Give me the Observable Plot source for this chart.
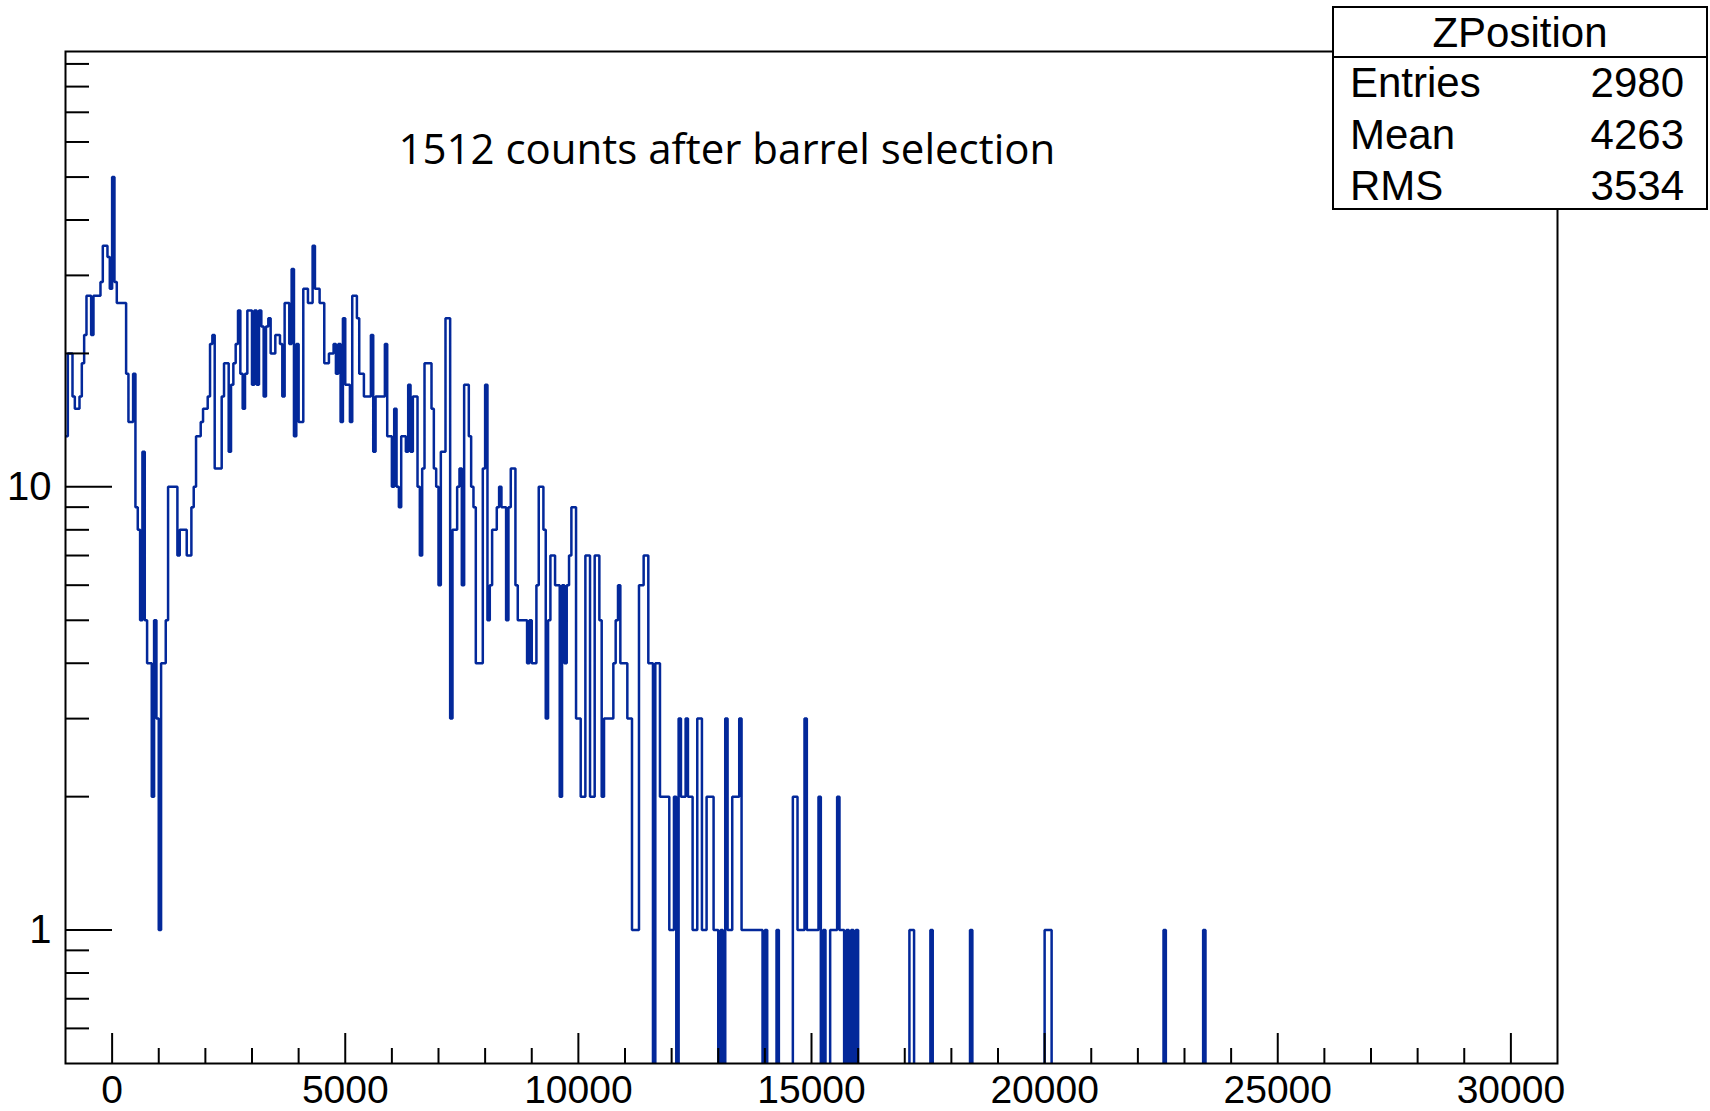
<!DOCTYPE html>
<html><head><meta charset="utf-8">
<script src="https://cdn.jsdelivr.net/npm/d3@7"></script>
<script src="https://cdn.jsdelivr.net/npm/@observablehq/plot@0.6"></script>
<style>html,body{margin:0;padding:0;background:#fff;overflow:hidden}</style>
</head><body>
<script>
// Histogram read as runs: each run starts at runStart[i] and lasts until the next start (bin width 50)
const runStart = [
  -1000,-950,-850,-800,-700,-650,-600,-550,-450,-400,-250,-200,-100,-50,0,50,100,300,350,450,
  500,550,600,650,700,750,850,900,950,1000,1050,1150,1200,
  1400,1450,1600,1700,1750,1800,1900,1950,2050,2100,2150,2200,2350,2400,2500,2550,2600,2650,2700,2750,
  2800,2850,2900,3000,3050,3100,3150,3200,3250,3300,3350,3400,3500,3600,3650,3700,3800,3850,3900,3950,
  4000,4100,4200,4300,4350,4450,4550,4650,4750,4800,4850,4900,4950,5000,5100,5150,5250,5300,5400,5550,
  5600,5650,5850,5900,6000,6050,6100,6150,6200,6300,6350,6400,6450,6550,6600,6650,6700,6850,6900,6950,
  7000,7050,7150,7250,7300,7400,7450,7500,7550,7650,7700,7750,7800,7950,8000,8050,8100,8150,8250,8300,
  8350,8450,8500,8550,8650,8700,8900,8950,9000,9100,9150,9250,9300,9350,9400,9500,9600,9650,9700,9750,
  9800,9850,9950,10050,10150,10250,10350,10450,10500,10550,10750,10800,10850,10900,11050,11150,11300,
  11400,11500,11600,11650,11750,11950,12050,12100,12150,12200,12300,12350,12450,12550,12650,12750,12900,
  13000,13050,13100,13150,13200,13300,13450,13500,13950,14000,14050,14250,14300,14600,14700,14850,14900,
  15150,15200,15250,15300,15400,15550,15600,15700,15750,15800,15850,15900,15950,16000,17100,17200,
  17550,17600,18400,18450,20000,20150,22550,22600,23400,23450
];
const runCount = [
  13,20,16,15,16,19,22,27,22,27,29,35,33,28,50,29,26,18,14,18,
  9,8,5,12,5,4,2,5,3,1,4,5,10,
  7,8,7,9,10,13,14,15,16,21,22,11,16,19,12,17,19,21,25,18,
  15,18,25,17,25,17,25,23,16,23,24,20,22,21,16,26,21,31,13,21,
  14,28,26,35,28,26,19,20,21,18,21,14,24,17,14,27,24,18,16,22,
  12,16,21,13,10,15,10,9,13,12,17,12,16,10,7,11,19,15,11,10,
  6,12,24,3,8,10,11,6,17,13,10,9,4,11,17,5,6,8,9,10,
  9,5,9,11,6,5,4,5,4,6,10,8,3,5,7,6,2,6,4,6,
  7,9,3,2,7,2,7,5,2,3,4,5,6,4,3,1,6,
  7,4,0,4,2,1,2,0,3,2,3,2,1,3,1,2,1,
  0,1,0,3,1,2,3,1,0,1,0,1,0,2,1,3,1,
  2,0,1,0,1,2,1,0,1,0,1,0,1,0,1,0,
  1,0,1,0,1,0,1,0,1,0
];
const xMajorTicks = [0, 5000, 10000, 15000, 20000, 25000, 30000];
const xMinorTicks = [1000,2000,3000,4000,6000,7000,8000,9000,11000,12000,13000,14000,16000,17000,18000,19000,
                     21000,22000,23000,24000,26000,27000,28000,29000];
const yMajorTicks = [1, 10];
const yMinorTicks = [0.6,0.7,0.8,0.9,2,3,4,5,6,7,8,9,20,30,40,50,60,70,80,90];
const statsTitle = "ZPosition";
const statsNames = ["Entries", "Mean", "RMS"];
const statsValues = [2980, 4263, 3534];
const annotation = "1512 counts after barrel selection";

const bins = runStart.map((x, i) => ({x, count: runCount[i]}));

const W = 1710, H = 1111, mL = 65, mR = 153, mT = 51, mB = 48;
const fw = W - mL - mR, fh = H - mT - mB;
const blue = "#03289a";

const svg = Plot.plot({
  width: W, height: H,
  marginLeft: mL, marginRight: mR, marginTop: mT, marginBottom: mB,
  style: {fontFamily: "'Liberation Sans', Arial, sans-serif", background: "white", color: "black"},
  x: {domain: [-1000, 31000], axis: null},
  y: {type: "log", domain: [0.5, 96], axis: null},
  marks: [
    Plot.line(bins, {x: "x", y: d => Math.max(d.count, 0.3), curve: "step-after", stroke: blue,
      strokeWidth: 2.5, strokeLinejoin: "miter", strokeLinecap: "butt", clip: true}),
    Plot.tickX(xMajorTicks, {x: d => d, insetTop: fh - 30, stroke: "black", strokeWidth: 2}),
    Plot.tickX(xMinorTicks, {x: d => d, insetTop: fh - 15, stroke: "black", strokeWidth: 2}),
    Plot.tickY(yMajorTicks, {y: d => d, insetRight: fw - 47, stroke: "black", strokeWidth: 2}),
    Plot.tickY(yMinorTicks, {y: d => d, insetRight: fw - 24, stroke: "black", strokeWidth: 2}),
    Plot.frame({stroke: "black", strokeWidth: 2}),
    Plot.text(xMajorTicks, {x: d => d, text: d => String(d), frameAnchor: "bottom", lineAnchor: "top",
      dy: 12, fontSize: 39, fill: "black"}),
    Plot.text(yMajorTicks, {y: d => d, text: d => String(d), frameAnchor: "left", textAnchor: "end",
      dx: -14, fontSize: 40, fill: "black"}),
    Plot.text([annotation], {text: d => d, frameAnchor: "top-left", textAnchor: "start", lineAnchor: "bottom",
      dx: 398 - mL, dy: 163 - mT, fontSize: 42, fontFamily: "'Open Sans', sans-serif", fill: "black"})
  ]
});

// stats box (ROOT TPaveStats)
const g = d3.select(svg).append("g")
  .attr("font-family", "'Liberation Sans', Arial, sans-serif").attr("fill", "black");
const bx = 1333, by = 7, bw = 374, bh = 202;
g.append("rect").attr("x", bx).attr("y", by).attr("width", bw).attr("height", bh)
  .attr("fill", "white").attr("stroke", "black").attr("stroke-width", 2);
g.append("line").attr("x1", bx).attr("x2", bx + bw).attr("y1", 57).attr("y2", 57)
  .attr("stroke", "black").attr("stroke-width", 2);
g.append("text").attr("x", bx + bw / 2).attr("y", 47).attr("text-anchor", "middle")
  .attr("font-size", 42).text(statsTitle);
const rowY = [97, 149, 200];
statsNames.forEach((n, i) => {
  g.append("text").attr("x", 1350).attr("y", rowY[i]).attr("font-size", 42)
    .attr("text-anchor", "start").text(n);
  g.append("text").attr("x", 1684).attr("y", rowY[i]).attr("font-size", 42)
    .attr("text-anchor", "end").text(String(statsValues[i]));
});

document.body.appendChild(svg);
</script>
</body></html>
